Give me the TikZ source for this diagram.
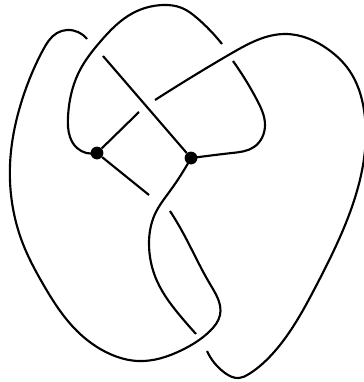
\documentclass[tikz,border=0pt]{standalone}
\usetikzlibrary{hobby}
\tikzset{strand/.style={line width=1.6pt,line cap=butt,use Hobby shortcut},
  straightstrand/.style={line width=1.6pt},
  vertexdot/.style={circle,fill=black,inner sep=0pt,minimum size=9.6pt}}
\begin{document}
\begin{tikzpicture}[x=0.75pt,y=-0.75pt]
\useasboundingbox (0,0) rectangle (364,382);
\node[vertexdot] (v1) at (97,153) {};
\node[vertexdot] (v2) at (191,158) {};
\coordinate (a1) at (87,39);
\coordinate (a2) at (170,211);
\coordinate (b1) at (103,56);
\coordinate (b2) at (196,334);
\coordinate (c1) at (139,112);
\coordinate (c2) at (155,100);
\coordinate (c3) at (207,351);
\coordinate (d1) at (222,44);
\coordinate (e1) at (233,61);
\coordinate (f1) at (149,195);
\draw[strand] (a1) .. (67,30) .. (57,33) .. (43,50) .. (23,97) .. (10,165) .. (23,244) .. (43,284) .. (77,331) .. (110,354) .. (138,361) .. (182,350) .. (210,331) .. (220,315) .. (210,284) .. (182,231) .. (a2);
\draw[straightstrand] (b1) -- (v2);
\draw[strand] (v2.center) .. (170,191) .. (155,214) .. (149,244) .. (157,281) .. (182,318) .. (b2);
\draw[straightstrand] (v1) -- (c1);
\draw[strand] (c2) .. (182,83) .. (232,53) .. (285,34) .. (329,50) .. (349,70) .. (364,110) .. (357,191) .. (335,248) .. (315,288) .. (275,351) .. (249,374) .. (239,378) .. (225,373) .. (c3);
\draw[strand] (v1.center) .. (77,148) .. (70,137) .. (68,117) .. (80,70) .. (100,42) .. (133,13) .. (163,5) .. (182,8) .. (197,18) .. (d1);
\draw[strand] (e1) .. (257,100) .. (265,125) .. (254,147) .. (232,153) .. (199,157) .. (v2.center);
\draw[straightstrand] (v1) -- (f1);
\end{tikzpicture}
\end{document}
